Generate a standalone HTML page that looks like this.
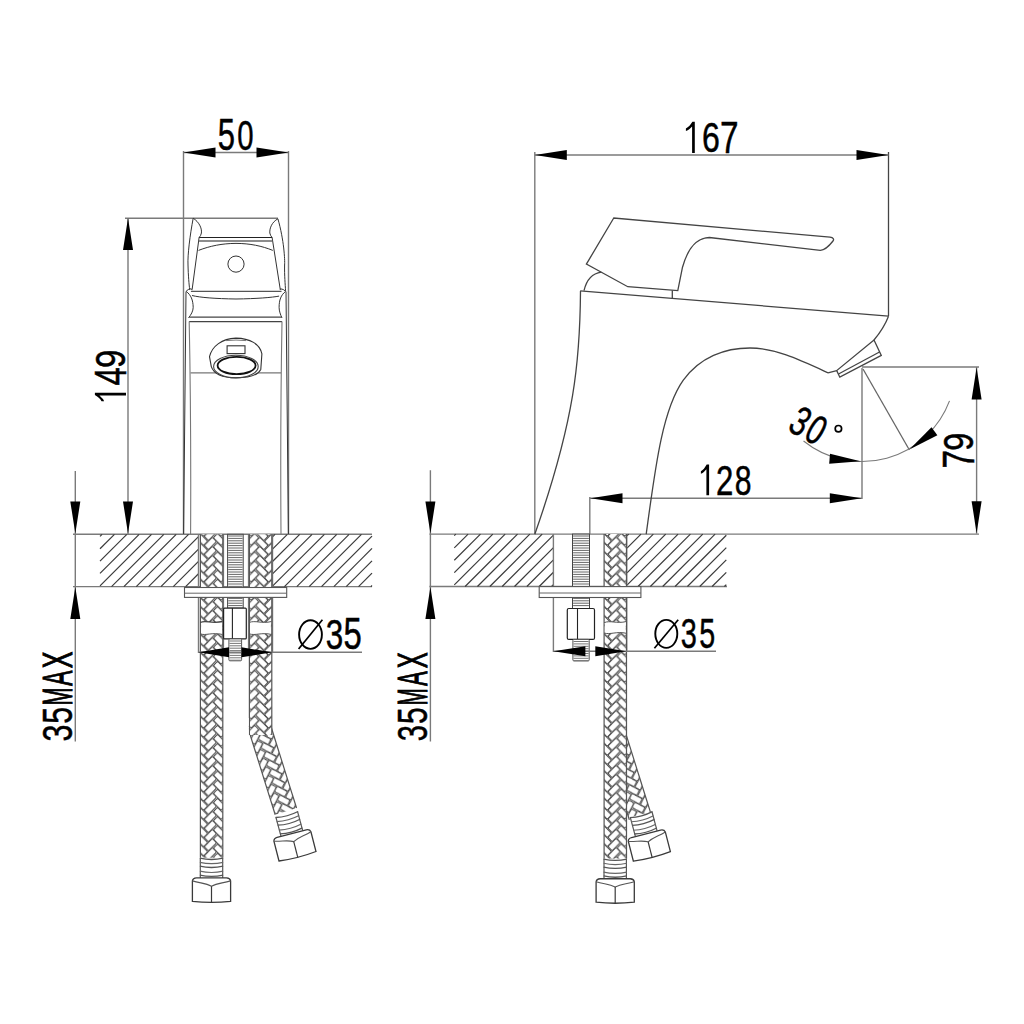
<!DOCTYPE html>
<html><head><meta charset="utf-8"><style>
html,body{margin:0;padding:0;background:#fff;width:1024px;height:1024px;overflow:hidden}
svg{display:block}
text{font-family:"Liberation Sans",sans-serif}
</style></head><body>
<svg width="1024" height="1024" viewBox="0 0 1024 1024">
<defs><pattern id="br1" patternUnits="userSpaceOnUse" width="22.4" height="9.13" patternTransform="translate(200.40,534.30) rotate(0)"><g stroke="#484848" stroke-width="1.0" fill="none"><rect x="-5.75" y="-3.00" width="11.50" height="6.00" rx="1.3" transform="translate(10.00,-9.13) rotate(-45)"/><rect x="-5.50" y="-3.00" width="11.00" height="6.00" rx="1.3" transform="translate(18.90,-3.93) rotate(45)"/><rect x="-5.50" y="-3.00" width="11.00" height="6.00" rx="1.3" transform="translate(1.40,-3.93) rotate(45)"/><rect x="-5.75" y="-3.00" width="11.50" height="6.00" rx="1.3" transform="translate(10.00,0.00) rotate(-45)"/><rect x="-5.50" y="-3.00" width="11.00" height="6.00" rx="1.3" transform="translate(18.90,5.20) rotate(45)"/><rect x="-5.50" y="-3.00" width="11.00" height="6.00" rx="1.3" transform="translate(1.40,5.20) rotate(45)"/><rect x="-5.75" y="-3.00" width="11.50" height="6.00" rx="1.3" transform="translate(10.00,9.13) rotate(-45)"/><rect x="-5.50" y="-3.00" width="11.00" height="6.00" rx="1.3" transform="translate(18.90,14.33) rotate(45)"/><rect x="-5.50" y="-3.00" width="11.00" height="6.00" rx="1.3" transform="translate(1.40,14.33) rotate(45)"/><rect x="-5.75" y="-3.00" width="11.50" height="6.00" rx="1.3" transform="translate(10.00,18.26) rotate(-45)"/><rect x="-5.50" y="-3.00" width="11.00" height="6.00" rx="1.3" transform="translate(18.90,23.46) rotate(45)"/><rect x="-5.50" y="-3.00" width="11.00" height="6.00" rx="1.3" transform="translate(1.40,23.46) rotate(45)"/></g></pattern>
<pattern id="br2" patternUnits="userSpaceOnUse" width="22.4" height="9.13" patternTransform="translate(247.20,725.50) rotate(-17.4) translate(22.4,0) scale(-1,1)"><g stroke="#484848" stroke-width="1.0" fill="none"><rect x="-5.75" y="-3.00" width="11.50" height="6.00" rx="1.3" transform="translate(10.00,-9.13) rotate(-45)"/><rect x="-5.50" y="-3.00" width="11.00" height="6.00" rx="1.3" transform="translate(18.90,-3.93) rotate(45)"/><rect x="-5.50" y="-3.00" width="11.00" height="6.00" rx="1.3" transform="translate(1.40,-3.93) rotate(45)"/><rect x="-5.75" y="-3.00" width="11.50" height="6.00" rx="1.3" transform="translate(10.00,0.00) rotate(-45)"/><rect x="-5.50" y="-3.00" width="11.00" height="6.00" rx="1.3" transform="translate(18.90,5.20) rotate(45)"/><rect x="-5.50" y="-3.00" width="11.00" height="6.00" rx="1.3" transform="translate(1.40,5.20) rotate(45)"/><rect x="-5.75" y="-3.00" width="11.50" height="6.00" rx="1.3" transform="translate(10.00,9.13) rotate(-45)"/><rect x="-5.50" y="-3.00" width="11.00" height="6.00" rx="1.3" transform="translate(18.90,14.33) rotate(45)"/><rect x="-5.50" y="-3.00" width="11.00" height="6.00" rx="1.3" transform="translate(1.40,14.33) rotate(45)"/><rect x="-5.75" y="-3.00" width="11.50" height="6.00" rx="1.3" transform="translate(10.00,18.26) rotate(-45)"/><rect x="-5.50" y="-3.00" width="11.00" height="6.00" rx="1.3" transform="translate(18.90,23.46) rotate(45)"/><rect x="-5.50" y="-3.00" width="11.00" height="6.00" rx="1.3" transform="translate(1.40,23.46) rotate(45)"/></g></pattern>
<pattern id="br3" patternUnits="userSpaceOnUse" width="22.4" height="9.13" patternTransform="translate(249.40,534.30) rotate(0) translate(22.4,0) scale(-1,1)"><g stroke="#484848" stroke-width="1.0" fill="none"><rect x="-5.75" y="-3.00" width="11.50" height="6.00" rx="1.3" transform="translate(10.00,-9.13) rotate(-45)"/><rect x="-5.50" y="-3.00" width="11.00" height="6.00" rx="1.3" transform="translate(18.90,-3.93) rotate(45)"/><rect x="-5.50" y="-3.00" width="11.00" height="6.00" rx="1.3" transform="translate(1.40,-3.93) rotate(45)"/><rect x="-5.75" y="-3.00" width="11.50" height="6.00" rx="1.3" transform="translate(10.00,0.00) rotate(-45)"/><rect x="-5.50" y="-3.00" width="11.00" height="6.00" rx="1.3" transform="translate(18.90,5.20) rotate(45)"/><rect x="-5.50" y="-3.00" width="11.00" height="6.00" rx="1.3" transform="translate(1.40,5.20) rotate(45)"/><rect x="-5.75" y="-3.00" width="11.50" height="6.00" rx="1.3" transform="translate(10.00,9.13) rotate(-45)"/><rect x="-5.50" y="-3.00" width="11.00" height="6.00" rx="1.3" transform="translate(18.90,14.33) rotate(45)"/><rect x="-5.50" y="-3.00" width="11.00" height="6.00" rx="1.3" transform="translate(1.40,14.33) rotate(45)"/><rect x="-5.75" y="-3.00" width="11.50" height="6.00" rx="1.3" transform="translate(10.00,18.26) rotate(-45)"/><rect x="-5.50" y="-3.00" width="11.00" height="6.00" rx="1.3" transform="translate(18.90,23.46) rotate(45)"/><rect x="-5.50" y="-3.00" width="11.00" height="6.00" rx="1.3" transform="translate(1.40,23.46) rotate(45)"/></g></pattern>
<pattern id="br4" patternUnits="userSpaceOnUse" width="22.4" height="9.13" patternTransform="translate(604.80,741.50) rotate(-17.4) translate(22.4,0) scale(-1,1)"><g stroke="#484848" stroke-width="1.0" fill="none"><rect x="-5.75" y="-3.00" width="11.50" height="6.00" rx="1.3" transform="translate(10.00,-9.13) rotate(-45)"/><rect x="-5.50" y="-3.00" width="11.00" height="6.00" rx="1.3" transform="translate(18.90,-3.93) rotate(45)"/><rect x="-5.50" y="-3.00" width="11.00" height="6.00" rx="1.3" transform="translate(1.40,-3.93) rotate(45)"/><rect x="-5.75" y="-3.00" width="11.50" height="6.00" rx="1.3" transform="translate(10.00,0.00) rotate(-45)"/><rect x="-5.50" y="-3.00" width="11.00" height="6.00" rx="1.3" transform="translate(18.90,5.20) rotate(45)"/><rect x="-5.50" y="-3.00" width="11.00" height="6.00" rx="1.3" transform="translate(1.40,5.20) rotate(45)"/><rect x="-5.75" y="-3.00" width="11.50" height="6.00" rx="1.3" transform="translate(10.00,9.13) rotate(-45)"/><rect x="-5.50" y="-3.00" width="11.00" height="6.00" rx="1.3" transform="translate(18.90,14.33) rotate(45)"/><rect x="-5.50" y="-3.00" width="11.00" height="6.00" rx="1.3" transform="translate(1.40,14.33) rotate(45)"/><rect x="-5.75" y="-3.00" width="11.50" height="6.00" rx="1.3" transform="translate(10.00,18.26) rotate(-45)"/><rect x="-5.50" y="-3.00" width="11.00" height="6.00" rx="1.3" transform="translate(18.90,23.46) rotate(45)"/><rect x="-5.50" y="-3.00" width="11.00" height="6.00" rx="1.3" transform="translate(1.40,23.46) rotate(45)"/></g></pattern>
<pattern id="br5" patternUnits="userSpaceOnUse" width="22.4" height="9.13" patternTransform="translate(604.10,534.10) rotate(0)"><g stroke="#484848" stroke-width="1.0" fill="none"><rect x="-5.75" y="-3.00" width="11.50" height="6.00" rx="1.3" transform="translate(10.00,-9.13) rotate(-45)"/><rect x="-5.50" y="-3.00" width="11.00" height="6.00" rx="1.3" transform="translate(18.90,-3.93) rotate(45)"/><rect x="-5.50" y="-3.00" width="11.00" height="6.00" rx="1.3" transform="translate(1.40,-3.93) rotate(45)"/><rect x="-5.75" y="-3.00" width="11.50" height="6.00" rx="1.3" transform="translate(10.00,0.00) rotate(-45)"/><rect x="-5.50" y="-3.00" width="11.00" height="6.00" rx="1.3" transform="translate(18.90,5.20) rotate(45)"/><rect x="-5.50" y="-3.00" width="11.00" height="6.00" rx="1.3" transform="translate(1.40,5.20) rotate(45)"/><rect x="-5.75" y="-3.00" width="11.50" height="6.00" rx="1.3" transform="translate(10.00,9.13) rotate(-45)"/><rect x="-5.50" y="-3.00" width="11.00" height="6.00" rx="1.3" transform="translate(18.90,14.33) rotate(45)"/><rect x="-5.50" y="-3.00" width="11.00" height="6.00" rx="1.3" transform="translate(1.40,14.33) rotate(45)"/><rect x="-5.75" y="-3.00" width="11.50" height="6.00" rx="1.3" transform="translate(10.00,18.26) rotate(-45)"/><rect x="-5.50" y="-3.00" width="11.00" height="6.00" rx="1.3" transform="translate(18.90,23.46) rotate(45)"/><rect x="-5.50" y="-3.00" width="11.00" height="6.00" rx="1.3" transform="translate(1.40,23.46) rotate(45)"/></g></pattern></defs>
<rect width="1024" height="1024" fill="#fff"/>
<line x1="183.50" y1="151.00" x2="183.50" y2="534.00" stroke="#7a7a7a" stroke-width="1.4"/>
<line x1="288.50" y1="151.00" x2="288.50" y2="534.00" stroke="#7a7a7a" stroke-width="1.4"/>
<line x1="183.50" y1="152.50" x2="288.50" y2="152.50" stroke="#7a7a7a" stroke-width="1.4"/>
<polygon points="183.50,152.50 215.50,147.50 215.50,157.50" fill="#000"/>
<polygon points="288.50,152.50 256.50,157.50 256.50,147.50" fill="#000"/>
<line x1="125.00" y1="218.20" x2="278.00" y2="218.20" stroke="#7a7a7a" stroke-width="1.4"/>
<line x1="128.00" y1="218.00" x2="128.00" y2="534.00" stroke="#7a7a7a" stroke-width="1.4"/>
<polygon points="128.00,218.00 133.00,250.00 123.00,250.00" fill="#000"/>
<polygon points="128.00,533.50 123.00,501.50 133.00,501.50" fill="#000"/>
<line x1="75.30" y1="471.00" x2="75.30" y2="741.60" stroke="#7a7a7a" stroke-width="1.4"/>
<polygon points="75.30,533.50 70.30,501.50 80.30,501.50" fill="#000"/>
<polygon points="75.30,587.00 80.30,619.00 70.30,619.00" fill="#000"/>
<line x1="73.00" y1="534.30" x2="372.00" y2="534.30" stroke="#7a7a7a" stroke-width="1.4"/>
<line x1="73.00" y1="586.60" x2="372.00" y2="586.60" stroke="#7a7a7a" stroke-width="1.4"/>
<line x1="100.00" y1="536.40" x2="102.10" y2="534.30" stroke="#3a3a3a" stroke-width="1.2"/>
<line x1="100.00" y1="548.75" x2="114.45" y2="534.30" stroke="#3a3a3a" stroke-width="1.2"/>
<line x1="100.00" y1="561.10" x2="126.80" y2="534.30" stroke="#3a3a3a" stroke-width="1.2"/>
<line x1="100.00" y1="573.45" x2="139.15" y2="534.30" stroke="#3a3a3a" stroke-width="1.2"/>
<line x1="100.00" y1="585.80" x2="151.50" y2="534.30" stroke="#3a3a3a" stroke-width="1.2"/>
<line x1="111.55" y1="586.60" x2="163.85" y2="534.30" stroke="#3a3a3a" stroke-width="1.2"/>
<line x1="123.90" y1="586.60" x2="176.20" y2="534.30" stroke="#3a3a3a" stroke-width="1.2"/>
<line x1="136.25" y1="586.60" x2="188.55" y2="534.30" stroke="#3a3a3a" stroke-width="1.2"/>
<line x1="148.60" y1="586.60" x2="198.50" y2="536.70" stroke="#3a3a3a" stroke-width="1.2"/>
<line x1="160.95" y1="586.60" x2="198.50" y2="549.05" stroke="#3a3a3a" stroke-width="1.2"/>
<line x1="173.30" y1="586.60" x2="198.50" y2="561.40" stroke="#3a3a3a" stroke-width="1.2"/>
<line x1="185.65" y1="586.60" x2="198.50" y2="573.75" stroke="#3a3a3a" stroke-width="1.2"/>
<line x1="272.50" y1="536.80" x2="275.00" y2="534.30" stroke="#3a3a3a" stroke-width="1.2"/>
<line x1="272.50" y1="549.15" x2="287.35" y2="534.30" stroke="#3a3a3a" stroke-width="1.2"/>
<line x1="272.50" y1="561.50" x2="299.70" y2="534.30" stroke="#3a3a3a" stroke-width="1.2"/>
<line x1="272.50" y1="573.85" x2="312.05" y2="534.30" stroke="#3a3a3a" stroke-width="1.2"/>
<line x1="272.50" y1="586.20" x2="324.40" y2="534.30" stroke="#3a3a3a" stroke-width="1.2"/>
<line x1="284.45" y1="586.60" x2="336.75" y2="534.30" stroke="#3a3a3a" stroke-width="1.2"/>
<line x1="296.80" y1="586.60" x2="349.10" y2="534.30" stroke="#3a3a3a" stroke-width="1.2"/>
<line x1="309.15" y1="586.60" x2="361.45" y2="534.30" stroke="#3a3a3a" stroke-width="1.2"/>
<line x1="321.50" y1="586.60" x2="372.00" y2="536.10" stroke="#3a3a3a" stroke-width="1.2"/>
<line x1="333.85" y1="586.60" x2="372.00" y2="548.45" stroke="#3a3a3a" stroke-width="1.2"/>
<line x1="346.20" y1="586.60" x2="372.00" y2="560.80" stroke="#3a3a3a" stroke-width="1.2"/>
<line x1="358.55" y1="586.60" x2="372.00" y2="573.15" stroke="#3a3a3a" stroke-width="1.2"/>
<line x1="370.90" y1="586.60" x2="372.00" y2="585.50" stroke="#3a3a3a" stroke-width="1.2"/>
<line x1="198.50" y1="534.30" x2="198.50" y2="653.00" stroke="#7a7a7a" stroke-width="1.4"/>
<line x1="272.50" y1="534.30" x2="272.50" y2="653.00" stroke="#7a7a7a" stroke-width="1.4"/>
<path d="M193.2,218.2 C190,235 187.5,255 188,265 C188.3,276 189,284 189.7,289.7" stroke="#333" stroke-width="1.0" fill="none" />
<path d="M193.2,218.2 C199,222 202,228 201.4,233 Q200.8,236 199.1,237.5" stroke="#333" stroke-width="1.0" fill="none" />
<path d="M199.1,237.5 L192.1,289.7" stroke="#333" stroke-width="1.0" fill="none" />
<path d="M277.9,218.8 C284,240 285,260 284.6,265 C284.4,276 285.2,284 285.6,290.9" stroke="#333" stroke-width="1.0" fill="none" />
<path d="M277.9,218.8 C272,222 269.5,228 269.8,233 Q270.5,236 272.1,237.5" stroke="#333" stroke-width="1.0" fill="none" />
<path d="M272.1,237.5 L280.3,289.7" stroke="#333" stroke-width="1.0" fill="none" />
<line x1="199.10" y1="237.50" x2="272.10" y2="237.50" stroke="#222" stroke-width="1.1"/>
<line x1="198.80" y1="241.00" x2="272.50" y2="241.00" stroke="#666" stroke-width="1.3"/>
<path d="M198.5,250.4 C210,246 222,243.4 236,243.4 C250,243.4 262,246 272.8,250.4" stroke="#333" stroke-width="1.0" fill="none" />
<circle cx="236" cy="264.1" r="8.1" fill="none" stroke="#333" stroke-width="1.0"/>
<line x1="190.90" y1="291.40" x2="281.50" y2="291.40" stroke="#555" stroke-width="1.2"/>
<path d="M186.2,291.2 Q188,289 190.9,288.8 L192.2,289.7" stroke="#333" stroke-width="1.0" fill="none" />
<path d="M285.6,291.2 Q283.5,289 280.5,288.8 L280.3,289.7" stroke="#333" stroke-width="1.0" fill="none" />
<path d="M192,295.5 C200,297.5 215,298.7 236,299 C257,298.7 272,297.5 279.1,296.1" stroke="#333" stroke-width="1.0" fill="none" />
<path d="M186.2,291.4 C191,295 193,300 193.2,307.3 C193.2,311 191,315 188.5,317.8" stroke="#333" stroke-width="1.0" fill="none" />
<path d="M285.6,291.4 C281,295 279.1,300 279.1,307.3 C279.1,311 280.5,315 282,317.8" stroke="#333" stroke-width="1.0" fill="none" />
<line x1="189.10" y1="317.20" x2="282.00" y2="317.20" stroke="#444" stroke-width="1.2"/>
<line x1="189.10" y1="321.60" x2="282.00" y2="321.60" stroke="#444" stroke-width="1.2"/>
<path d="M186.0,291.5 L183.6,534" stroke="#333" stroke-width="1.0" fill="none" />
<path d="M286.0,291.5 L288.4,534" stroke="#333" stroke-width="1.0" fill="none" />
<path d="M189.2,321.6 Q191.2,420 190.6,534" stroke="#777" stroke-width="1.1" fill="none" />
<path d="M282.0,321.6 Q280.2,420 281.0,534" stroke="#777" stroke-width="1.1" fill="none" />
<line x1="190.50" y1="372.90" x2="281.00" y2="372.90" stroke="#777" stroke-width="1.1"/>
<path d="M211.3,366.6 L209.5,356.7 C212,346 222,338.6 235.9,338.1 C250,338.4 260,344 261.9,353.9 L260.8,369.4 C258,375 248,377.8 235.9,377.8 C224,377.8 214,374.5 211.3,366.6 Z" stroke="#333" stroke-width="1.1" fill="#fff" />
<ellipse cx="235.9" cy="366.6" rx="22.3" ry="11.3" fill="none" stroke="#444" stroke-width="1.1"/>
<ellipse cx="236.6" cy="365.5" rx="19.0" ry="8.7" fill="none" stroke="#111" stroke-width="1.8"/>
<rect x="227.10" y="345.80" width="17.90" height="7.80" rx="0" stroke="#333" stroke-width="1.1" fill="none"/>
<path d="M226,340.6 Q236,339.5 246,340.6" stroke="#777" stroke-width="1.0" fill="none" />
<rect x="227.60" y="534.30" width="15.60" height="73.80" rx="0" stroke="#444" stroke-width="1.0" fill="#fff"/>
<line x1="228.20" y1="536.00" x2="242.60" y2="536.00" stroke="#666" stroke-width="1.0"/>
<line x1="228.20" y1="538.40" x2="242.60" y2="538.40" stroke="#666" stroke-width="1.0"/>
<line x1="228.20" y1="540.80" x2="242.60" y2="540.80" stroke="#666" stroke-width="1.0"/>
<line x1="228.20" y1="543.20" x2="242.60" y2="543.20" stroke="#666" stroke-width="1.0"/>
<line x1="228.20" y1="545.60" x2="242.60" y2="545.60" stroke="#666" stroke-width="1.0"/>
<line x1="228.20" y1="548.00" x2="242.60" y2="548.00" stroke="#666" stroke-width="1.0"/>
<line x1="228.20" y1="550.40" x2="242.60" y2="550.40" stroke="#666" stroke-width="1.0"/>
<line x1="228.20" y1="552.80" x2="242.60" y2="552.80" stroke="#666" stroke-width="1.0"/>
<line x1="228.20" y1="555.20" x2="242.60" y2="555.20" stroke="#666" stroke-width="1.0"/>
<line x1="228.20" y1="557.60" x2="242.60" y2="557.60" stroke="#666" stroke-width="1.0"/>
<line x1="228.20" y1="560.00" x2="242.60" y2="560.00" stroke="#666" stroke-width="1.0"/>
<line x1="228.20" y1="562.40" x2="242.60" y2="562.40" stroke="#666" stroke-width="1.0"/>
<line x1="228.20" y1="564.80" x2="242.60" y2="564.80" stroke="#666" stroke-width="1.0"/>
<line x1="228.20" y1="567.20" x2="242.60" y2="567.20" stroke="#666" stroke-width="1.0"/>
<line x1="228.20" y1="569.60" x2="242.60" y2="569.60" stroke="#666" stroke-width="1.0"/>
<line x1="228.20" y1="572.00" x2="242.60" y2="572.00" stroke="#666" stroke-width="1.0"/>
<line x1="228.20" y1="574.40" x2="242.60" y2="574.40" stroke="#666" stroke-width="1.0"/>
<line x1="228.20" y1="576.80" x2="242.60" y2="576.80" stroke="#666" stroke-width="1.0"/>
<line x1="228.20" y1="579.20" x2="242.60" y2="579.20" stroke="#666" stroke-width="1.0"/>
<line x1="228.20" y1="581.60" x2="242.60" y2="581.60" stroke="#666" stroke-width="1.0"/>
<line x1="228.20" y1="584.00" x2="242.60" y2="584.00" stroke="#666" stroke-width="1.0"/>
<line x1="228.20" y1="586.40" x2="242.60" y2="586.40" stroke="#666" stroke-width="1.0"/>
<line x1="228.20" y1="588.80" x2="242.60" y2="588.80" stroke="#666" stroke-width="1.0"/>
<line x1="228.20" y1="591.20" x2="242.60" y2="591.20" stroke="#666" stroke-width="1.0"/>
<line x1="228.20" y1="593.60" x2="242.60" y2="593.60" stroke="#666" stroke-width="1.0"/>
<line x1="228.20" y1="596.00" x2="242.60" y2="596.00" stroke="#666" stroke-width="1.0"/>
<line x1="228.20" y1="598.40" x2="242.60" y2="598.40" stroke="#666" stroke-width="1.0"/>
<line x1="228.20" y1="600.80" x2="242.60" y2="600.80" stroke="#666" stroke-width="1.0"/>
<line x1="228.20" y1="603.20" x2="242.60" y2="603.20" stroke="#666" stroke-width="1.0"/>
<line x1="228.20" y1="605.60" x2="242.60" y2="605.60" stroke="#666" stroke-width="1.0"/>
<path d="M200.40,534.30 L222.80,534.30 L222.80,857.80 L200.40,857.80 Z" fill="#fff" stroke="none"/>
<path d="M200.40,534.30 L222.80,534.30 L222.80,857.80 L200.40,857.80 Z" fill="url(#br1)" stroke="none"/>
<line x1="200.40" y1="534.30" x2="200.40" y2="857.80" stroke="#555" stroke-width="1.2"/>
<line x1="222.80" y1="534.30" x2="222.80" y2="857.80" stroke="#555" stroke-width="1.2"/>
<line x1="223.60" y1="534.30" x2="223.60" y2="653.00" stroke="#666" stroke-width="1.0"/>
<path d="M247.20,725.50 L268.57,718.80 L296.54,808.02 L275.16,814.72 Z" fill="#fff" stroke="none"/>
<path d="M247.20,725.50 L268.57,718.80 L296.54,808.02 L275.16,814.72 Z" fill="url(#br2)" stroke="none"/>
<line x1="268.57" y1="718.80" x2="296.54" y2="808.02" stroke="#555" stroke-width="1.2"/>
<path d="M249.40,534.30 L271.80,534.30 L271.80,735.00 L249.40,735.00 Z" fill="#fff" stroke="none"/>
<path d="M249.40,534.30 L271.80,534.30 L271.80,735.00 L249.40,735.00 Z" fill="url(#br3)" stroke="none"/>
<line x1="249.40" y1="534.30" x2="249.40" y2="735.00" stroke="#555" stroke-width="1.2"/>
<line x1="271.80" y1="534.30" x2="271.80" y2="735.00" stroke="#555" stroke-width="1.2"/>
<line x1="250.20" y1="735.00" x2="275.20" y2="814.70" stroke="#555" stroke-width="1.2"/>
<rect x="238" y="718" width="10.8" height="17" fill="#fff"/>
<line x1="248.40" y1="534.30" x2="248.40" y2="653.00" stroke="#666" stroke-width="1.0"/>
<rect x="184.50" y="587.50" width="102.20" height="9.90" rx="0" stroke="#555" stroke-width="1.1" fill="#fff"/>
<line x1="184.50" y1="593.20" x2="286.70" y2="593.20" stroke="#666" stroke-width="1.0"/>
<path d="M201.1,622.5 C205,620 212,624 222.0,621.5 L222.0,634.5 C212,632 205,636 201.1,633.8 Z" stroke="none" stroke-width="0" fill="#fff" />
<path d="M250.0,622.5 C255,620 262,624 270.9,621.5 L270.9,634.5 C262,632 255,636 250.0,633.8 Z" stroke="none" stroke-width="0" fill="#fff" />
<path d="M200.4,622.5 C205,620 212,624 222.6,621.5" stroke="#444" stroke-width="1.3" fill="none" />
<path d="M200.4,633.8 C205,636 212,632 222.6,634.5" stroke="#555" stroke-width="1.0" fill="none" />
<path d="M249.2,622.5 C255,620 262,624 271.5,621.5" stroke="#555" stroke-width="1.0" fill="none" />
<path d="M249.2,633.8 C255,636 262,632 271.5,634.5" stroke="#555" stroke-width="1.0" fill="none" />
<rect x="223.60" y="608.10" width="22.70" height="30.80" rx="1" stroke="#222" stroke-width="1.2" fill="#fff"/>
<line x1="232.40" y1="608.10" x2="232.40" y2="638.90" stroke="#222" stroke-width="1.1"/>
<rect x="228.90" y="638.90" width="12.70" height="21.90" rx="1" stroke="#555" stroke-width="1.0" fill="#fff"/>
<line x1="229.50" y1="641.00" x2="241.00" y2="641.00" stroke="#777" stroke-width="1.0"/>
<line x1="229.50" y1="643.40" x2="241.00" y2="643.40" stroke="#777" stroke-width="1.0"/>
<line x1="229.50" y1="645.80" x2="241.00" y2="645.80" stroke="#777" stroke-width="1.0"/>
<line x1="229.50" y1="648.20" x2="241.00" y2="648.20" stroke="#777" stroke-width="1.0"/>
<line x1="229.50" y1="650.60" x2="241.00" y2="650.60" stroke="#777" stroke-width="1.0"/>
<line x1="229.50" y1="653.00" x2="241.00" y2="653.00" stroke="#777" stroke-width="1.0"/>
<line x1="229.50" y1="655.40" x2="241.00" y2="655.40" stroke="#777" stroke-width="1.0"/>
<line x1="229.50" y1="657.80" x2="241.00" y2="657.80" stroke="#777" stroke-width="1.0"/>
<line x1="229.50" y1="660.20" x2="241.00" y2="660.20" stroke="#777" stroke-width="1.0"/>
<line x1="198.40" y1="652.30" x2="362.00" y2="652.30" stroke="#7a7a7a" stroke-width="1.4"/>
<polygon points="198.50,652.30 229.00,647.30 229.00,657.30" fill="#000"/>
<polygon points="272.50,652.30 241.50,657.30 241.50,647.30" fill="#000"/>
<g transform="translate(211.50,857.90) rotate(0)">
<rect x="-11.2" y="0" width="22.4" height="21" fill="#fff" stroke="none"/>
<line x1="-11.20" y1="0.00" x2="-11.20" y2="21.00" stroke="#555" stroke-width="1.2"/>
<line x1="11.20" y1="0.00" x2="11.20" y2="21.00" stroke="#555" stroke-width="1.2"/>
<path d="M-11.6,0.30 Q0,2.90 11.6,0.30" stroke="#555" stroke-width="1.3" fill="none" />
<path d="M-11.6,4.50 Q0,7.10 11.6,4.50" stroke="#666" stroke-width="1.2" fill="none" />
<path d="M-11.6,8.30 Q0,10.90 11.6,8.30" stroke="#555" stroke-width="1.3" fill="none" />
<path d="M-11.6,13.30 Q0,15.90 11.6,13.30" stroke="#666" stroke-width="1.2" fill="none" />
<path d="M-11.6,17.20 Q0,19.80 11.6,17.20" stroke="#555" stroke-width="1.3" fill="none" />
<path d="M-11.6,21.50 Q0,24.10 11.6,21.50" stroke="#666" stroke-width="1.2" fill="none" />
</g>
<g transform="translate(211.50,857.90) rotate(0)">
<path d="M-19.1,23 Q-18.6,20.2 -15,20.0 L15,20.0 Q18.6,20.2 19.1,23 L19.1,43.4 Q0,45.6 -19.1,43.4 Z" stroke="#3a3a3a" stroke-width="1.3" fill="#fff" />
<path d="M-19.1,23 C-11,25.5 -6,25 0,28.3 C6,25 11,25.5 19.1,23" stroke="#555" stroke-width="1.1" fill="none" />
<line x1="0.00" y1="28.30" x2="0.00" y2="44.80" stroke="#3a3a3a" stroke-width="1.2"/>
</g>
<g transform="translate(286.70,814.20) rotate(-15)">
<rect x="-11.2" y="0" width="22.4" height="21" fill="#fff" stroke="none"/>
<line x1="-11.20" y1="0.00" x2="-11.20" y2="21.00" stroke="#555" stroke-width="1.2"/>
<line x1="11.20" y1="0.00" x2="11.20" y2="21.00" stroke="#555" stroke-width="1.2"/>
<path d="M-11.6,0.30 Q0,2.90 11.6,0.30" stroke="#555" stroke-width="1.3" fill="none" />
<path d="M-11.6,4.50 Q0,7.10 11.6,4.50" stroke="#666" stroke-width="1.2" fill="none" />
<path d="M-11.6,8.30 Q0,10.90 11.6,8.30" stroke="#555" stroke-width="1.3" fill="none" />
<path d="M-11.6,13.30 Q0,15.90 11.6,13.30" stroke="#666" stroke-width="1.2" fill="none" />
<path d="M-11.6,17.20 Q0,19.80 11.6,17.20" stroke="#555" stroke-width="1.3" fill="none" />
<path d="M-11.6,21.50 Q0,24.10 11.6,21.50" stroke="#666" stroke-width="1.2" fill="none" />
</g>
<g transform="translate(286.70,814.20) rotate(-14.4)">
<path d="M-19.1,23 Q-18.6,20.2 -15,20.0 L15,20.0 Q18.6,20.2 19.1,23 L19.1,43.4 Q0,45.6 -19.1,43.4 Z" stroke="#3a3a3a" stroke-width="1.3" fill="#fff" />
<path d="M-19.1,23 C-11,25.5 -6,25 0,28.3 C6,25 11,25.5 19.1,23" stroke="#555" stroke-width="1.1" fill="none" />
<line x1="0.00" y1="28.30" x2="0.00" y2="44.80" stroke="#3a3a3a" stroke-width="1.2"/>
</g>
<line x1="534.80" y1="152.00" x2="534.80" y2="534.00" stroke="#7a7a7a" stroke-width="1.4"/>
<line x1="888.50" y1="152.00" x2="888.50" y2="316.00" stroke="#444" stroke-width="1.3"/>
<line x1="534.80" y1="155.00" x2="888.50" y2="155.00" stroke="#7a7a7a" stroke-width="1.4"/>
<polygon points="534.80,155.00 566.80,150.00 566.80,160.00" fill="#000"/>
<polygon points="888.50,155.00 856.50,160.00 856.50,150.00" fill="#000"/>
<line x1="430.40" y1="470.30" x2="430.40" y2="741.50" stroke="#7a7a7a" stroke-width="1.4"/>
<polygon points="430.40,533.50 425.40,501.50 435.40,501.50" fill="#000"/>
<polygon points="430.40,587.00 435.40,619.00 425.40,619.00" fill="#000"/>
<line x1="429.40" y1="534.10" x2="979.00" y2="534.10" stroke="#7a7a7a" stroke-width="1.4"/>
<line x1="429.40" y1="586.50" x2="727.00" y2="586.50" stroke="#7a7a7a" stroke-width="1.4"/>
<line x1="454.30" y1="535.55" x2="455.75" y2="534.10" stroke="#3a3a3a" stroke-width="1.2"/>
<line x1="454.30" y1="547.90" x2="468.10" y2="534.10" stroke="#3a3a3a" stroke-width="1.2"/>
<line x1="454.30" y1="560.25" x2="480.45" y2="534.10" stroke="#3a3a3a" stroke-width="1.2"/>
<line x1="454.30" y1="572.60" x2="492.80" y2="534.10" stroke="#3a3a3a" stroke-width="1.2"/>
<line x1="454.30" y1="584.95" x2="505.15" y2="534.10" stroke="#3a3a3a" stroke-width="1.2"/>
<line x1="465.10" y1="586.50" x2="517.50" y2="534.10" stroke="#3a3a3a" stroke-width="1.2"/>
<line x1="477.45" y1="586.50" x2="529.85" y2="534.10" stroke="#3a3a3a" stroke-width="1.2"/>
<line x1="489.80" y1="586.50" x2="542.20" y2="534.10" stroke="#3a3a3a" stroke-width="1.2"/>
<line x1="502.15" y1="586.50" x2="553.70" y2="534.95" stroke="#3a3a3a" stroke-width="1.2"/>
<line x1="514.50" y1="586.50" x2="553.70" y2="547.30" stroke="#3a3a3a" stroke-width="1.2"/>
<line x1="526.85" y1="586.50" x2="553.70" y2="559.65" stroke="#3a3a3a" stroke-width="1.2"/>
<line x1="539.20" y1="586.50" x2="553.70" y2="572.00" stroke="#3a3a3a" stroke-width="1.2"/>
<line x1="551.55" y1="586.50" x2="553.70" y2="584.35" stroke="#3a3a3a" stroke-width="1.2"/>
<line x1="627.00" y1="535.75" x2="628.65" y2="534.10" stroke="#3a3a3a" stroke-width="1.2"/>
<line x1="627.00" y1="548.10" x2="641.00" y2="534.10" stroke="#3a3a3a" stroke-width="1.2"/>
<line x1="627.00" y1="560.45" x2="653.35" y2="534.10" stroke="#3a3a3a" stroke-width="1.2"/>
<line x1="627.00" y1="572.80" x2="665.70" y2="534.10" stroke="#3a3a3a" stroke-width="1.2"/>
<line x1="627.00" y1="585.15" x2="678.05" y2="534.10" stroke="#3a3a3a" stroke-width="1.2"/>
<line x1="638.00" y1="586.50" x2="690.40" y2="534.10" stroke="#3a3a3a" stroke-width="1.2"/>
<line x1="650.35" y1="586.50" x2="702.75" y2="534.10" stroke="#3a3a3a" stroke-width="1.2"/>
<line x1="662.70" y1="586.50" x2="715.10" y2="534.10" stroke="#3a3a3a" stroke-width="1.2"/>
<line x1="675.05" y1="586.50" x2="726.30" y2="535.25" stroke="#3a3a3a" stroke-width="1.2"/>
<line x1="687.40" y1="586.50" x2="726.30" y2="547.60" stroke="#3a3a3a" stroke-width="1.2"/>
<line x1="699.75" y1="586.50" x2="726.30" y2="559.95" stroke="#3a3a3a" stroke-width="1.2"/>
<line x1="712.10" y1="586.50" x2="726.30" y2="572.30" stroke="#3a3a3a" stroke-width="1.2"/>
<line x1="724.45" y1="586.50" x2="726.30" y2="584.65" stroke="#3a3a3a" stroke-width="1.2"/>
<line x1="553.40" y1="534.10" x2="553.40" y2="652.00" stroke="#7a7a7a" stroke-width="1.4"/>
<line x1="626.70" y1="534.10" x2="626.70" y2="652.00" stroke="#7a7a7a" stroke-width="1.4"/>
<line x1="862.00" y1="367.00" x2="979.00" y2="367.00" stroke="#7a7a7a" stroke-width="1.4"/>
<line x1="976.60" y1="367.00" x2="976.60" y2="533.70" stroke="#7a7a7a" stroke-width="1.4"/>
<polygon points="976.60,367.50 981.60,399.50 971.60,399.50" fill="#000"/>
<polygon points="976.60,533.20 971.60,501.20 981.60,501.20" fill="#000"/>
<line x1="589.80" y1="497.00" x2="589.80" y2="534.00" stroke="#7a7a7a" stroke-width="1.4"/>
<line x1="590.00" y1="498.20" x2="862.00" y2="498.20" stroke="#7a7a7a" stroke-width="1.4"/>
<polygon points="590.50,498.20 622.50,493.20 622.50,503.20" fill="#000"/>
<polygon points="861.80,498.20 829.80,503.20 829.80,493.20" fill="#000"/>
<line x1="862.00" y1="368.00" x2="862.00" y2="499.00" stroke="#7a7a7a" stroke-width="1.4"/>
<line x1="863.00" y1="369.00" x2="909.40" y2="450.00" stroke="#666" stroke-width="1.3"/>
<path d="M803.54,440.97 A93.5,93.5 0 0 0 949.51,400.93" stroke="#7a7a7a" stroke-width="1.1" fill="none" />
<polygon points="860.50,461.30 829.20,463.81 830.00,453.84" fill="#000"/>
<polygon points="909.40,449.50 931.50,427.19 937.39,435.27" fill="#000"/>
<path d="M613.75,218 L586.4,264.1 L627.8,286.7 L677.8,290.6 L682.5,267.2 C688,248 696,238 709.4,237.5 L820.3,250.3 Q826,250 833,241 Q835,238 830,237.2 Z" stroke="#444" stroke-width="1.3" fill="none" />
<path d="M584,290.6 Q588,274 601.25,272.2" stroke="#444" stroke-width="1.3" fill="none" />
<path d="M580.2,290.8 L888.5,316.2" stroke="#444" stroke-width="1.3" fill="none" />
<line x1="672.30" y1="290.50" x2="672.30" y2="298.50" stroke="#444" stroke-width="1.3"/>
<path d="M580.5,291 C580,360 575,420 534.8,534.2" stroke="#444" stroke-width="1.3" fill="none" />
<path d="M646.2,534.2 C655,470 662,410 683.3,380.2 C700,357 725,348 750,348 C775,348 800,360 828,372.8" stroke="#444" stroke-width="1.3" fill="none" />
<path d="M888.5,316.2 Q884,328 874,340" stroke="#444" stroke-width="1.3" fill="none" />
<path d="M874,340 L881.3,355.4 L839.8,377.2 L836.7,370.6 Z" stroke="#444" stroke-width="1.3" fill="none" />
<path d="M838.5,374 L879.5,352" stroke="#444" stroke-width="1.3" fill="none" />
<path d="M828,372.8 L836.7,370.6" stroke="#444" stroke-width="1.3" fill="none" />
<rect x="572.50" y="534.10" width="17.00" height="74.40" rx="0" stroke="#444" stroke-width="1.0" fill="#fff"/>
<line x1="573.10" y1="536.00" x2="588.90" y2="536.00" stroke="#666" stroke-width="1.0"/>
<line x1="573.10" y1="538.40" x2="588.90" y2="538.40" stroke="#666" stroke-width="1.0"/>
<line x1="573.10" y1="540.80" x2="588.90" y2="540.80" stroke="#666" stroke-width="1.0"/>
<line x1="573.10" y1="543.20" x2="588.90" y2="543.20" stroke="#666" stroke-width="1.0"/>
<line x1="573.10" y1="545.60" x2="588.90" y2="545.60" stroke="#666" stroke-width="1.0"/>
<line x1="573.10" y1="548.00" x2="588.90" y2="548.00" stroke="#666" stroke-width="1.0"/>
<line x1="573.10" y1="550.40" x2="588.90" y2="550.40" stroke="#666" stroke-width="1.0"/>
<line x1="573.10" y1="552.80" x2="588.90" y2="552.80" stroke="#666" stroke-width="1.0"/>
<line x1="573.10" y1="555.20" x2="588.90" y2="555.20" stroke="#666" stroke-width="1.0"/>
<line x1="573.10" y1="557.60" x2="588.90" y2="557.60" stroke="#666" stroke-width="1.0"/>
<line x1="573.10" y1="560.00" x2="588.90" y2="560.00" stroke="#666" stroke-width="1.0"/>
<line x1="573.10" y1="562.40" x2="588.90" y2="562.40" stroke="#666" stroke-width="1.0"/>
<line x1="573.10" y1="564.80" x2="588.90" y2="564.80" stroke="#666" stroke-width="1.0"/>
<line x1="573.10" y1="567.20" x2="588.90" y2="567.20" stroke="#666" stroke-width="1.0"/>
<line x1="573.10" y1="569.60" x2="588.90" y2="569.60" stroke="#666" stroke-width="1.0"/>
<line x1="573.10" y1="572.00" x2="588.90" y2="572.00" stroke="#666" stroke-width="1.0"/>
<line x1="573.10" y1="574.40" x2="588.90" y2="574.40" stroke="#666" stroke-width="1.0"/>
<line x1="573.10" y1="576.80" x2="588.90" y2="576.80" stroke="#666" stroke-width="1.0"/>
<line x1="573.10" y1="579.20" x2="588.90" y2="579.20" stroke="#666" stroke-width="1.0"/>
<line x1="573.10" y1="581.60" x2="588.90" y2="581.60" stroke="#666" stroke-width="1.0"/>
<line x1="573.10" y1="584.00" x2="588.90" y2="584.00" stroke="#666" stroke-width="1.0"/>
<line x1="573.10" y1="586.40" x2="588.90" y2="586.40" stroke="#666" stroke-width="1.0"/>
<line x1="573.10" y1="588.80" x2="588.90" y2="588.80" stroke="#666" stroke-width="1.0"/>
<line x1="573.10" y1="591.20" x2="588.90" y2="591.20" stroke="#666" stroke-width="1.0"/>
<line x1="573.10" y1="593.60" x2="588.90" y2="593.60" stroke="#666" stroke-width="1.0"/>
<line x1="573.10" y1="596.00" x2="588.90" y2="596.00" stroke="#666" stroke-width="1.0"/>
<line x1="573.10" y1="598.40" x2="588.90" y2="598.40" stroke="#666" stroke-width="1.0"/>
<line x1="573.10" y1="600.80" x2="588.90" y2="600.80" stroke="#666" stroke-width="1.0"/>
<line x1="573.10" y1="603.20" x2="588.90" y2="603.20" stroke="#666" stroke-width="1.0"/>
<line x1="573.10" y1="605.60" x2="588.90" y2="605.60" stroke="#666" stroke-width="1.0"/>
<path d="M604.80,741.50 L626.17,734.80 L650.70,813.05 L629.32,819.75 Z" fill="#fff" stroke="none"/>
<path d="M604.80,741.50 L626.17,734.80 L650.70,813.05 L629.32,819.75 Z" fill="url(#br4)" stroke="none"/>
<line x1="604.80" y1="741.50" x2="629.32" y2="819.75" stroke="#555" stroke-width="1.2"/>
<line x1="626.17" y1="734.80" x2="650.70" y2="813.05" stroke="#555" stroke-width="1.2"/>
<path d="M604.10,534.10 L626.50,534.10 L626.50,858.75 L604.10,858.75 Z" fill="#fff" stroke="none"/>
<path d="M604.10,534.10 L626.50,534.10 L626.50,858.75 L604.10,858.75 Z" fill="url(#br5)" stroke="none"/>
<line x1="604.10" y1="534.10" x2="604.10" y2="858.75" stroke="#555" stroke-width="1.2"/>
<line x1="626.50" y1="534.10" x2="626.50" y2="858.75" stroke="#555" stroke-width="1.2"/>
<rect x="539.20" y="586.60" width="101.70" height="10.90" rx="0" stroke="#555" stroke-width="1.1" fill="#fff"/>
<line x1="539.20" y1="593.00" x2="640.90" y2="593.00" stroke="#666" stroke-width="1.0"/>
<path d="M604.8,622.7 C610,620 617,624 625.7,621.5 L625.7,633.3 C617,631 610,635 604.8,633 Z" stroke="none" stroke-width="0" fill="#fff" />
<path d="M604.1,622.7 C610,620 617,624 626.3,621.5" stroke="#555" stroke-width="1.0" fill="none" />
<path d="M604.1,633 C610,635 617,631 626.3,633.3" stroke="#555" stroke-width="1.0" fill="none" />
<rect x="567.30" y="608.50" width="27.20" height="30.90" rx="1.5" stroke="#222" stroke-width="1.2" fill="#fff"/>
<line x1="577.50" y1="608.50" x2="577.50" y2="639.40" stroke="#222" stroke-width="1.1"/>
<rect x="572.90" y="639.40" width="16.30" height="21.50" rx="1" stroke="#555" stroke-width="1.0" fill="#fff"/>
<line x1="573.50" y1="641.50" x2="588.60" y2="641.50" stroke="#777" stroke-width="1.0"/>
<line x1="573.50" y1="643.90" x2="588.60" y2="643.90" stroke="#777" stroke-width="1.0"/>
<line x1="573.50" y1="646.30" x2="588.60" y2="646.30" stroke="#777" stroke-width="1.0"/>
<line x1="573.50" y1="648.70" x2="588.60" y2="648.70" stroke="#777" stroke-width="1.0"/>
<line x1="573.50" y1="651.10" x2="588.60" y2="651.10" stroke="#777" stroke-width="1.0"/>
<line x1="573.50" y1="653.50" x2="588.60" y2="653.50" stroke="#777" stroke-width="1.0"/>
<line x1="573.50" y1="655.90" x2="588.60" y2="655.90" stroke="#777" stroke-width="1.0"/>
<line x1="573.50" y1="658.30" x2="588.60" y2="658.30" stroke="#777" stroke-width="1.0"/>
<line x1="573.50" y1="660.70" x2="588.60" y2="660.70" stroke="#777" stroke-width="1.0"/>
<line x1="553.40" y1="651.20" x2="716.00" y2="651.20" stroke="#7a7a7a" stroke-width="1.4"/>
<polygon points="553.40,651.20 585.40,646.20 585.40,656.20" fill="#000"/>
<polygon points="626.30,651.20 595.30,656.20 595.30,646.20" fill="#000"/>
<g transform="translate(615.20,858.75) rotate(0)">
<rect x="-11.2" y="0" width="22.4" height="21" fill="#fff" stroke="none"/>
<line x1="-11.20" y1="0.00" x2="-11.20" y2="21.00" stroke="#555" stroke-width="1.2"/>
<line x1="11.20" y1="0.00" x2="11.20" y2="21.00" stroke="#555" stroke-width="1.2"/>
<path d="M-11.6,0.30 Q0,2.90 11.6,0.30" stroke="#555" stroke-width="1.3" fill="none" />
<path d="M-11.6,4.50 Q0,7.10 11.6,4.50" stroke="#666" stroke-width="1.2" fill="none" />
<path d="M-11.6,8.30 Q0,10.90 11.6,8.30" stroke="#555" stroke-width="1.3" fill="none" />
<path d="M-11.6,13.30 Q0,15.90 11.6,13.30" stroke="#666" stroke-width="1.2" fill="none" />
<path d="M-11.6,17.20 Q0,19.80 11.6,17.20" stroke="#555" stroke-width="1.3" fill="none" />
<path d="M-11.6,21.50 Q0,24.10 11.6,21.50" stroke="#666" stroke-width="1.2" fill="none" />
</g>
<g transform="translate(615.20,858.75) rotate(0)">
<path d="M-19.1,23 Q-18.6,20.2 -15,20.0 L15,20.0 Q18.6,20.2 19.1,23 L19.1,43.4 Q0,45.6 -19.1,43.4 Z" stroke="#3a3a3a" stroke-width="1.3" fill="#fff" />
<path d="M-19.1,23 C-11,25.5 -6,25 0,28.3 C6,25 11,25.5 19.1,23" stroke="#555" stroke-width="1.1" fill="none" />
<line x1="0.00" y1="28.30" x2="0.00" y2="44.80" stroke="#3a3a3a" stroke-width="1.2"/>
</g>
<g transform="translate(641.10,814.40) rotate(-15)">
<rect x="-11.2" y="0" width="22.4" height="21" fill="#fff" stroke="none"/>
<line x1="-11.20" y1="0.00" x2="-11.20" y2="21.00" stroke="#555" stroke-width="1.2"/>
<line x1="11.20" y1="0.00" x2="11.20" y2="21.00" stroke="#555" stroke-width="1.2"/>
<path d="M-11.6,0.30 Q0,2.90 11.6,0.30" stroke="#555" stroke-width="1.3" fill="none" />
<path d="M-11.6,4.50 Q0,7.10 11.6,4.50" stroke="#666" stroke-width="1.2" fill="none" />
<path d="M-11.6,8.30 Q0,10.90 11.6,8.30" stroke="#555" stroke-width="1.3" fill="none" />
<path d="M-11.6,13.30 Q0,15.90 11.6,13.30" stroke="#666" stroke-width="1.2" fill="none" />
<path d="M-11.6,17.20 Q0,19.80 11.6,17.20" stroke="#555" stroke-width="1.3" fill="none" />
<path d="M-11.6,21.50 Q0,24.10 11.6,21.50" stroke="#666" stroke-width="1.2" fill="none" />
</g>
<g transform="translate(641.10,814.40) rotate(-14.4)">
<path d="M-19.1,23 Q-18.6,20.2 -15,20.0 L15,20.0 Q18.6,20.2 19.1,23 L19.1,43.4 Q0,45.6 -19.1,43.4 Z" stroke="#3a3a3a" stroke-width="1.3" fill="#fff" />
<path d="M-19.1,23 C-11,25.5 -6,25 0,28.3 C6,25 11,25.5 19.1,23" stroke="#555" stroke-width="1.1" fill="none" />
<line x1="0.00" y1="28.30" x2="0.00" y2="44.80" stroke="#3a3a3a" stroke-width="1.2"/>
</g>
<text transform="translate(218.80,150.50) scale(0.7115,1)" x="-1.49" y="-0.69" font-size="43.57" fill="#000" stroke="#000" stroke-width="0.5">5</text>
<text transform="translate(238.10,150.50) scale(0.6828,1)" x="-1.25" y="-0.68" font-size="42.96" fill="#000" stroke="#000" stroke-width="0.5">0</text>
<path transform="translate(685.90,152.90)" d="M6.20,0 L8.90,0 L8.90,-31.10 L6.50,-31.10 C4.40,-27.90 2.50,-25.50 0,-24.50 L0,-21.90 C2.80,-22.60 4.00,-24.70 6.20,-26.50 Z" fill="#000"/>
<text transform="translate(703.40,152.90) scale(0.7447,1)" x="-1.90" y="-0.68" font-size="43.10" fill="#000" stroke="#000" stroke-width="0.5">6</text>
<text transform="translate(721.50,152.90) scale(0.7512,1)" x="-1.97" y="-0.25" font-size="44.35" fill="#000" stroke="#000" stroke-width="0.5">7</text>
<path transform="translate(700.90,495.30)" d="M5.50,0 L8.20,0 L8.20,-30.70 L5.80,-30.70 C3.70,-27.50 2.50,-25.10 0,-24.10 L0,-21.50 C2.80,-22.20 3.30,-24.30 5.50,-26.10 Z" fill="#000"/>
<text transform="translate(717.30,495.30) scale(0.7218,1)" x="-1.91" y="-0.25" font-size="43.14" fill="#000" stroke="#000" stroke-width="0.5">2</text>
<text transform="translate(735.80,495.30) scale(0.7140,1)" x="-1.44" y="-0.67" font-size="42.24" fill="#000" stroke="#000" stroke-width="0.5">8</text>
<path transform="translate(126.00,401.20) rotate(-90)" d="M5.80,0 L8.50,0 L8.50,-31.10 L6.10,-31.10 C4.00,-27.90 2.50,-25.50 0,-24.50 L0,-21.90 C2.80,-22.60 3.60,-24.70 5.80,-26.50 Z" fill="#000"/>
<text transform="translate(126.00,385.10) rotate(-90) scale(0.7448,1)" x="-0.63" y="-0.47" font-size="44.03" fill="#000" stroke="#000" stroke-width="0.5">4</text>
<text transform="translate(126.00,366.70) rotate(-90) scale(0.7647,1)" x="-1.69" y="-0.68" font-size="43.10" fill="#000" stroke="#000" stroke-width="0.5">9</text>
<text transform="translate(974.10,467.00) rotate(-90) scale(0.7488,1)" x="-1.96" y="-0.25" font-size="44.20" fill="#000" stroke="#000" stroke-width="0.5">7</text>
<text transform="translate(974.10,449.40) rotate(-90) scale(0.7522,1)" x="-1.68" y="-0.68" font-size="42.96" fill="#000" stroke="#000" stroke-width="0.5">9</text>
<text transform="translate(72.90,740.50) rotate(-90) scale(0.7163,1)" x="-1.45" y="-0.67" font-size="42.39" fill="#000" stroke="#000" stroke-width="0.5">3</text>
<text transform="translate(72.90,722.80) rotate(-90) scale(0.7062,1)" x="-1.47" y="-0.68" font-size="43.00" fill="#000" stroke="#000" stroke-width="0.5">5</text>
<text transform="translate(72.90,704.00) rotate(-90) scale(0.5085,1)" x="-2.87" y="-0.55" font-size="42.75" fill="#000" stroke="#000" stroke-width="1.1">M</text>
<text transform="translate(72.90,686.00) rotate(-90) scale(0.5381,1)" x="0.34" y="-0.76" font-size="42.45" fill="#000" stroke="#000" stroke-width="1.1">A</text>
<text transform="translate(72.90,667.90) rotate(-90) scale(0.5800,1)" x="-0.52" y="-0.55" font-size="42.75" fill="#000" stroke="#000" stroke-width="1.1">X</text>
<text transform="translate(427.60,740.20) rotate(-90) scale(0.6934,1)" x="-1.43" y="-0.67" font-size="41.97" fill="#000" stroke="#000" stroke-width="0.5">3</text>
<text transform="translate(427.60,723.10) rotate(-90) scale(0.7035,1)" x="-1.45" y="-0.68" font-size="42.57" fill="#000" stroke="#000" stroke-width="0.5">5</text>
<text transform="translate(427.60,704.10) rotate(-90) scale(0.4857,1)" x="-2.84" y="-0.55" font-size="42.32" fill="#000" stroke="#000" stroke-width="1.1">M</text>
<text transform="translate(427.60,686.00) rotate(-90) scale(0.5148,1)" x="0.34" y="-0.76" font-size="42.01" fill="#000" stroke="#000" stroke-width="1.1">A</text>
<text transform="translate(427.60,667.90) rotate(-90) scale(0.5631,1)" x="-0.51" y="-0.55" font-size="42.32" fill="#000" stroke="#000" stroke-width="1.1">X</text>
<text transform="translate(326.70,649.80) scale(0.7267,1)" x="-1.48" y="-0.68" font-size="43.24" fill="#000" stroke="#000" stroke-width="0.5">3</text>
<text transform="translate(344.70,649.80) scale(0.7500,1)" x="-1.50" y="-0.69" font-size="43.86" fill="#000" stroke="#000" stroke-width="0.5">5</text>
<ellipse cx="310.5" cy="634.6" rx="11.4" ry="14.3" fill="none" stroke="#000" stroke-width="1.9"/>
<line x1="298.6" y1="649" x2="322.4" y2="619.8" stroke="#000" stroke-width="1.7"/>
<text transform="translate(681.70,648.70) scale(0.6748,1)" x="-1.46" y="-0.68" font-size="42.82" fill="#000" stroke="#000" stroke-width="0.5">3</text>
<text transform="translate(700.10,648.70) scale(0.6605,1)" x="-1.49" y="-0.68" font-size="43.43" fill="#000" stroke="#000" stroke-width="0.5">5</text>
<ellipse cx="666.3" cy="633.85" rx="11.0" ry="14.0" fill="none" stroke="#000" stroke-width="1.9"/>
<line x1="654.4" y1="648.3" x2="678.2" y2="619.8" stroke="#000" stroke-width="1.7"/>
<text transform="translate(786.72,430.57) rotate(30) scale(0.7157,1)" x="-1.41" y="-0.67" font-size="41.55" stroke="#000" stroke-width="0.5">3</text>
<text transform="translate(802.72,439.17) rotate(30) scale(0.7009,1)" x="-1.20" y="-0.67" font-size="41.55" stroke="#000" stroke-width="0.5">0</text>
<circle cx="838.4" cy="428.7" r="3.2" fill="none" stroke="#000" stroke-width="1.7"/>
</svg></body></html>
